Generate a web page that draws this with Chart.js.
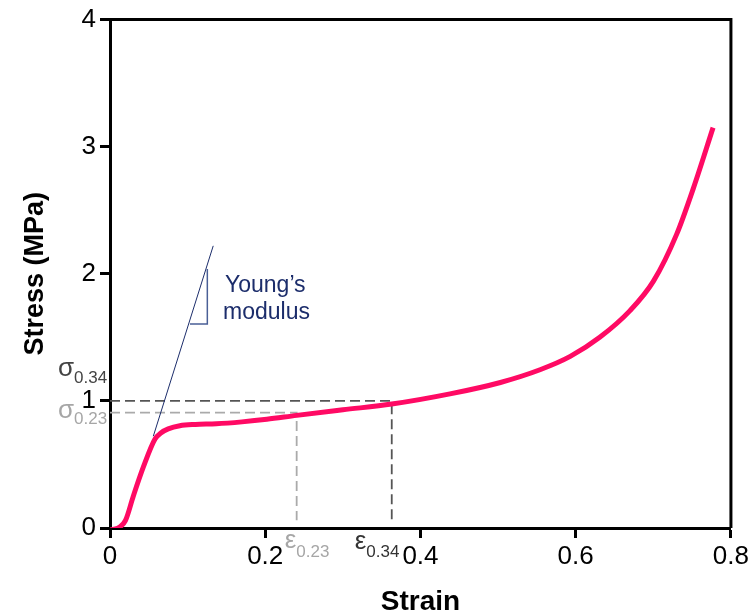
<!DOCTYPE html>
<html>
<head>
<meta charset="utf-8">
<script src="https://cdn.jsdelivr.net/npm/chart.js@4/dist/chart.umd.min.js"></script>
<style>
  html, body { margin: 0; padding: 0; background: #fff; }
  #wrap { width: 752px; height: 616px; }
</style>
</head>
<body>
<div id="wrap"><canvas id="chart" width="752" height="616"></canvas></div>
<script>
// stress-strain curve
const strain = [0, 0.005, 0.012, 0.02, 0.03, 0.043, 0.058, 0.066, 0.075, 0.09, 0.11, 0.137, 0.17, 0.202, 0.2405, 0.3, 0.363, 0.438, 0.503, 0.554, 0.593, 0.631, 0.67, 0.7, 0.73, 0.752, 0.777];
const stress = [-0.015, -0.01, 0.005, 0.06, 0.25, 0.48, 0.7, 0.75, 0.78, 0.805, 0.815, 0.82, 0.835, 0.855, 0.886, 0.93, 0.975, 1.055, 1.145, 1.245, 1.35, 1.5, 1.71, 1.94, 2.31, 2.68, 3.15];

// Young's modulus tangent and its slope triangle
const youngX = [0.0558, 0.133];
const youngY = [0.722, 2.22];
const triX = [0.103, 0.1254, 0.1254];
const triY = [1.606, 1.606, 2.037];

// reference strains / stresses
const eps34 = 0.363, sig34 = 1.0;
const eps23 = 0.2405, sig23 = 0.907;

const xTicks = [0, 0.2, 0.4, 0.6, 0.8];
const yTicks = [0, 1, 2, 3, 4];

const FONT = 'Arial, "Liberation Sans", sans-serif';

function pts(xs, ys) {
  return xs.map((x, i) => ({ x: x, y: ys[i] }));
}

const annotations = {
  id: "annotations",
  afterDatasetsDraw(chart) {
    const ctx = chart.ctx;
    const a = chart.chartArea;
    const sx = chart.scales.x;
    const sy = chart.scales.y;

    // closing frame (top and right)
    ctx.save();
    ctx.strokeStyle = "#000";
    ctx.lineWidth = 3;
    ctx.beginPath();
    ctx.moveTo(a.left, a.top);
    ctx.lineTo(a.right, a.top);
    ctx.lineTo(a.right, a.bottom);
    ctx.stroke();

    function sub(main, subTxt, x, y, color, subDy) {
      ctx.fillStyle = color;
      ctx.textAlign = "left";
      ctx.textBaseline = "alphabetic";
      ctx.font = "26px " + FONT;
      ctx.fillText(main, x, y);
      const w = ctx.measureText(main).width;
      ctx.font = "17px " + FONT;
      ctx.fillText(subTxt, x + w, y + subDy);
    }

    sub("σ", "0.34", 58, sy.getPixelForValue(sig34) - 25, "#444", 7);
    sub("σ", "0.23", 58, sy.getPixelForValue(sig23) + 5, "#a6a6a6", 6);
    sub("ε", "0.23", sx.getPixelForValue(eps23) - 12, 548, "#a6a6a6", 9);
    sub("ε", "0.34", sx.getPixelForValue(eps34) - 37, 549, "#333", 8);

    ctx.fillStyle = "#1c2d6b";
    ctx.font = "23px " + FONT;
    ctx.textAlign = "left";
    ctx.fillText("Young\u2019s", 225, 292);
    ctx.fillText("modulus", 223, 319);
    ctx.restore();
  }
};

new Chart(document.getElementById("chart"), {
  type: "scatter",
  data: {
    datasets: [
      {
        label: "Stress",
        data: pts(strain, stress),
        showLine: true,
        borderColor: "#ff0a64",
        borderWidth: 5,
        pointRadius: 0,
        cubicInterpolationMode: "monotone",
        borderJoinStyle: "round"
      },
      {
        label: "Young",
        data: pts(youngX, youngY),
        showLine: true,
        borderColor: "#1c2d6b",
        borderWidth: 1,
        pointRadius: 0
      },
      {
        label: "Triangle",
        data: pts(triX, triY),
        showLine: true,
        borderColor: "#4a5f96",
        borderWidth: 1.5,
        pointRadius: 0
      },
      {
        label: "sigma034",
        data: pts([0, eps34, eps34], [sig34, sig34, 0.06]),
        showLine: true,
        borderColor: "#555",
        borderWidth: 1.8,
        borderDash: [10, 5],
        pointRadius: 0
      },
      {
        label: "sigma023",
        data: pts([0, eps23, eps23], [sig23, sig23, 0.06]),
        showLine: true,
        borderColor: "#aaa",
        borderWidth: 1.8,
        borderDash: [10, 5],
        pointRadius: 0
      }
    ]
  },
  options: {
    responsive: false,
    animation: false,
    layout: { padding: { top: 18, right: 21, left: 0, bottom: 0 } },
    plugins: {
      legend: { display: false },
      tooltip: { enabled: false }
    },
    scales: {
      x: {
        type: "linear",
        min: 0,
        max: 0.8,
        afterBuildTicks: scale => { scale.ticks = xTicks.map(v => ({ value: v })); },
        afterFit: scale => { scale.height = 88; },
        border: { display: true, color: "#000", width: 3 },
        grid: { display: true, drawOnChartArea: false, drawTicks: true, tickLength: 10, tickWidth: 3, tickColor: "#000" },
        ticks: {
          color: "#000",
          padding: 3,
          maxRotation: 0,
          font: { family: FONT, size: 26 },
          callback: v => String(v)
        },
        title: {
          display: true,
          text: "Strain",
          color: "#000",
          font: { family: FONT, size: 28, weight: "bold" },
          padding: { top: 0, bottom: -3 }
        }
      },
      y: {
        type: "linear",
        min: 0,
        max: 4,
        afterBuildTicks: scale => { scale.ticks = yTicks.map(v => ({ value: v })); },
        afterFit: scale => { scale.width = 110; },
        border: { display: true, color: "#000", width: 3 },
        grid: { display: true, drawOnChartArea: false, drawTicks: true, tickLength: 10, tickWidth: 3, tickColor: "#000" },
        ticks: {
          color: "#000",
          padding: 4,
          font: { family: FONT, size: 26 },
          callback: v => String(v)
        },
        title: {
          display: true,
          text: "Stress (MPa)",
          color: "#000",
          font: { family: FONT, size: 27, weight: "bold" },
          padding: { top: 19, bottom: 0 }
        }
      }
    }
  },
  plugins: [annotations]
});
</script>
</body>
</html>
